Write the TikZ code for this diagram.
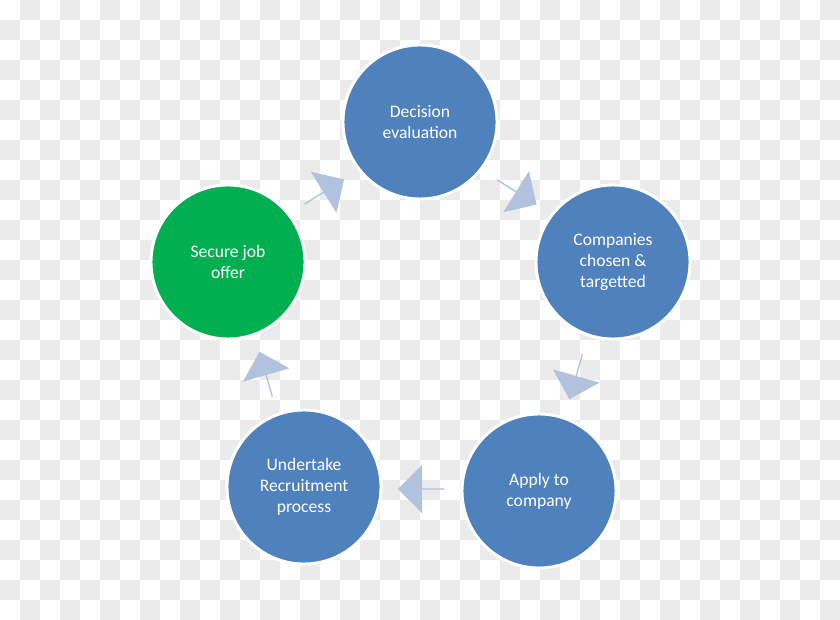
\documentclass[tikz,border=0pt]{standalone}
\usepackage{fontspec}
\setmainfont{Carlito}
\usetikzlibrary{shapes.arrows, calc}
\definecolor{stageblue}{HTML}{4F81BD}
\definecolor{stagegreen}{HTML}{00B050}
\definecolor{flowblue}{HTML}{B0C2DE}
\definecolor{checker}{HTML}{EBEBEB}
\begin{document}
\begin{tikzpicture}[x=0.03cm, y=0.03cm,
    stage/.style={circle, draw=white, line width=2.5pt, fill=stageblue, text=white,
        minimum size=4.62cm, align=center, font=\fontsize{15}{18}\selectfont},
    flow/.style={single arrow, fill=flowblue, draw=none, minimum height=1.4cm,
        minimum width=1.45cm, single arrow head extend=0.25cm, inner sep=0pt}]
    % checkerboard background
    \fill[white] (0,0) rectangle (840,610);
    \foreach \i in {0,...,41}
        \foreach \j in {0,...,30} {
            \pgfmathtruncatemacro{\odd}{mod(\i+\j,2)}
            \ifnum\odd=1 \fill[checker] (\i*20,610-\j*20) rectangle ++(20,-20); \fi
        }
    \useasboundingbox (0,0) rectangle (840,610);

    % stages of the cycle
    \node[stage] (decision) at (420,488) {Decision\\evaluation};
    \node[stage] (companies) at (613,348) {Companies\\chosen \&\\targetted};
    \node[stage] (apply) at (539,119) {Apply to\\company};
    \node[stage] (undertake) at (304,123) {Undertake\\Recruitment\\process};
    \node[stage, fill=stagegreen] (secure) at (228,348) {Secure job\\offer};

    % block arrows between the stages
    \node[flow, rotate=32] (secure-decision) at ($(secure)!0.5!(decision)$) {};
    \node[flow, rotate=-32] (decision-companies) at ($(decision)!0.5!(companies)$) {};
    \node[flow, rotate=-106] (companies-apply) at ($(companies)!0.5!(apply)$) {};
    \node[flow, rotate=180] (apply-undertake) at ($(apply)!0.5!(undertake)$) {};
    \node[flow, rotate=106] (undertake-secure) at ($(undertake)!0.5!(secure)$) {};
\end{tikzpicture}
\end{document}
